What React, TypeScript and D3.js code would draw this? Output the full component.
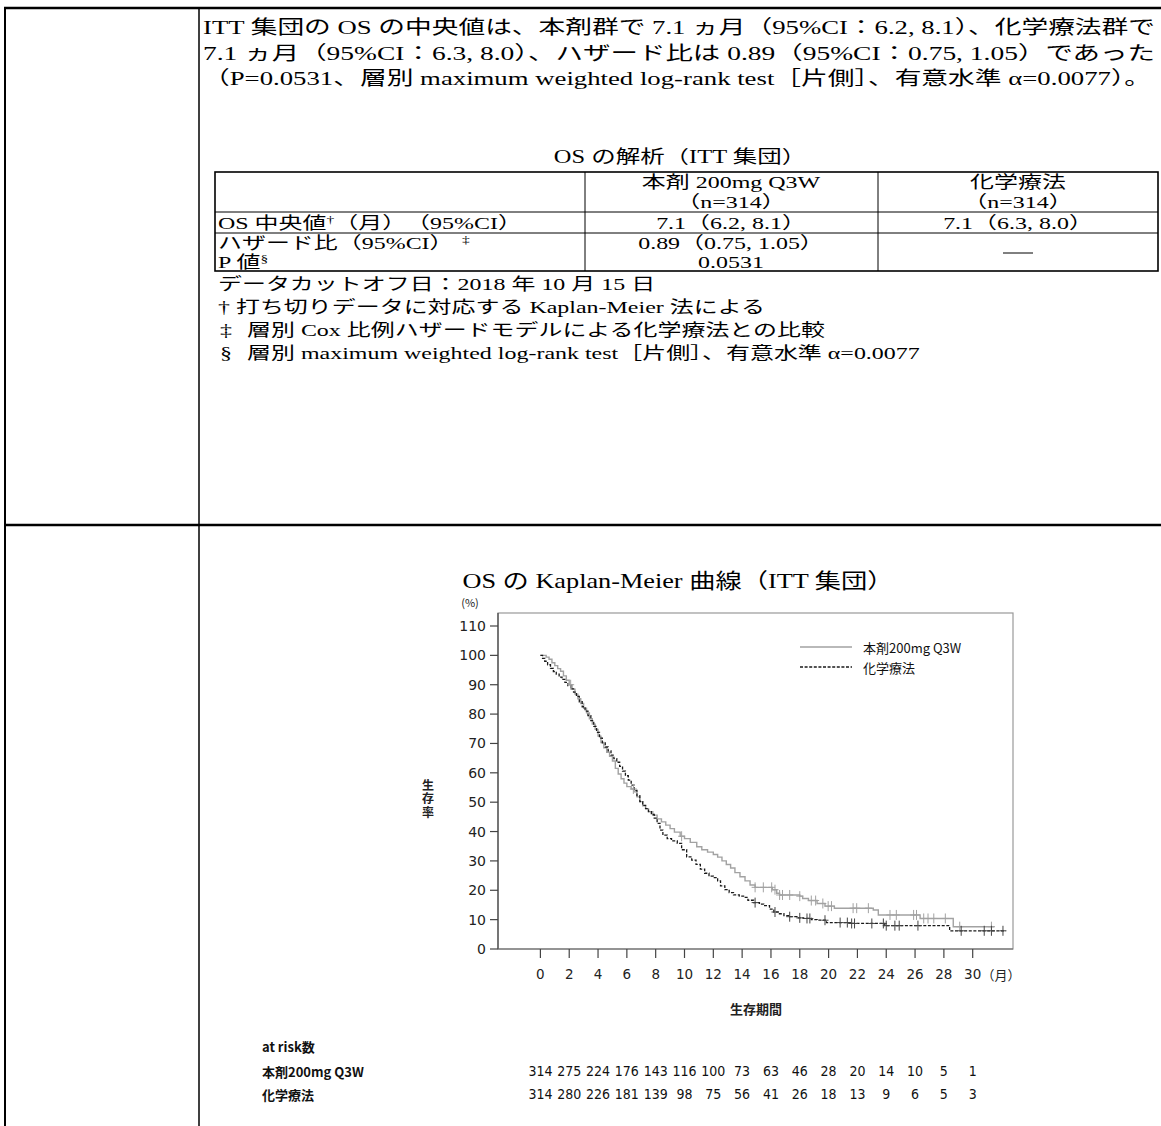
import React from "react";
import * as d3 from "d3";

// ---- Kaplan-Meier data (months, survival %) ----
const drugCurve: [number, number][] = [
  [0, 100], [0.4, 99.4], [0.6, 98.7], [0.8, 97.5], [1.0, 96.5], [1.2, 95.5], [1.4, 94.6],
  [1.6, 93.0], [1.8, 91.5], [2.0, 90.0], [2.2, 88.5], [2.4, 86.8], [2.6, 85.2], [2.8, 83.6],
  [3.0, 82.0], [3.2, 80.4], [3.4, 78.4], [3.6, 76.6], [3.8, 74.8], [4.0, 72.5], [4.2, 70.3],
  [4.4, 68.5], [4.6, 67.0], [4.8, 65.6], [5.0, 64.0], [5.2, 61.5], [5.4, 59.6], [5.6, 58.0],
  [5.8, 56.5], [6.0, 55.3], [6.3, 54.5], [6.5, 53.5], [6.7, 51.8], [6.9, 50.2], [7.1, 48.8],
  [7.3, 47.8], [7.5, 46.8], [7.8, 45.6], [8.1, 44.3], [8.4, 43.3], [8.7, 42.2], [9.0, 41.0],
  [9.3, 39.8], [9.7, 38.4], [10.0, 37.6], [10.4, 36.3], [10.85, 34.8], [11.2, 33.8],
  [11.6, 33.0], [12.0, 32.2], [12.3, 31.3], [12.6, 30.0], [12.9, 28.8], [13.2, 27.6],
  [13.5, 26.0], [13.85, 24.6], [14.2, 23.2], [14.55, 21.8], [14.9, 21.0], [16.1, 20.2],
  [16.4, 19.0], [16.6, 18.4], [18.0, 18.0], [18.2, 17.2], [18.6, 16.5], [19.2, 15.5],
  [19.75, 14.6], [20.4, 13.9], [23.1, 13.3], [23.45, 11.6], [26.35, 10.4], [28.65, 7.6],
  [31.5, 7.6],
];

const chemoCurve: [number, number][] = [
  [0, 100], [0.15, 99.0], [0.3, 98.0], [0.5, 96.8], [0.7, 95.6], [0.9, 94.5], [1.1, 93.6],
  [1.3, 92.6], [1.5, 91.8], [1.7, 90.8], [1.9, 89.7], [2.1, 88.6], [2.3, 87.5], [2.5, 86.0],
  [2.7, 84.2], [2.9, 82.5], [3.1, 81.0], [3.3, 79.5], [3.5, 77.8], [3.7, 75.8], [3.9, 73.8],
  [4.1, 71.8], [4.3, 70.2], [4.5, 68.8], [4.7, 67.5], [4.9, 66.0], [5.1, 64.8], [5.3, 63.6],
  [5.5, 62.2], [5.7, 60.6], [5.9, 59.0], [6.1, 57.5], [6.3, 55.8], [6.5, 54.0], [6.7, 52.2],
  [6.9, 50.2], [7.1, 48.9], [7.3, 47.8], [7.5, 46.8], [7.7, 45.8], [7.9, 44.6], [8.1, 42.8],
  [8.3, 40.5], [8.5, 38.8], [8.8, 37.6], [9.1, 36.8], [9.5, 36.0], [9.8, 33.8], [10.15, 31.4],
  [10.5, 30.3], [10.8, 28.8], [11.1, 27.2], [11.4, 25.8], [11.7, 24.8], [12.0, 24.3],
  [12.3, 23.2], [12.5, 21.5], [12.8, 20.2], [13.1, 19.2], [13.4, 18.4], [13.8, 18.0],
  [14.1, 17.6], [14.4, 16.6], [14.8, 15.8], [15.2, 15.3], [15.5, 14.8], [15.9, 13.6],
  [16.2, 12.6], [16.5, 12.0], [16.9, 11.4], [17.3, 11.0], [17.8, 10.6], [18.25, 10.4],
  [18.8, 10.0], [19.2, 9.8], [19.85, 9.0], [21.5, 8.7], [23.9, 7.95], [28.4, 6.2], [32.3, 6.2],
];

// censoring times (months)
const drugCensor = [2.1, 6.45, 9.8, 14.9, 15.47, 16.05, 16.28, 16.6, 16.8, 17.3, 18.0, 18.8, 19.1,
  19.6, 19.97, 20.2, 21.7, 21.95, 22.76, 24.26, 24.7, 25.9, 26.1, 26.6, 26.9, 27.3, 28.1, 29.1, 31.3];
const chemoCensor = [14.9, 16.28, 17.3, 18.0, 18.5, 18.7, 19.75, 20.8, 21.3, 21.6, 21.8, 23.0, 23.8,
  24.0, 24.6, 24.9, 26.2, 29.2, 30.8, 31.3, 32.1];

const xTicks = [0, 2, 4, 6, 8, 10, 12, 14, 16, 18, 20, 22, 24, 26, 28, 30];
const yTicks = [0, 10, 20, 30, 40, 50, 60, 70, 80, 90, 100, 110];
const atRiskDrug = [314, 275, 224, 176, 143, 116, 100, 73, 63, 46, 28, 20, 14, 10, 5, 1];
const atRiskChemo = [314, 280, 226, 181, 139, 98, 75, 56, 41, 26, 18, 13, 9, 6, 5, 3];

const drugLabel = "本剤200mg Q3W";
const chemoLabel = "化学療法";
const yTitle = "生存率";

const paragraph = [
  "ITT 集団の OS の中央値は、本剤群で 7.1 ヵ月（95%CI：6.2, 8.1）、化学療法群で",
  "7.1 ヵ月（95%CI：6.3, 8.0）、ハザード比は 0.89（95%CI：0.75, 1.05）であった",
  "（P=0.0531、層別 maximum weighted log-rank test［片側］、有意水準 α=0.0077）。",
];
const paragraphWidths = [952, 952, 948];

const SERIF = "'Liberation Serif', 'Times New Roman', 'Noto Sans CJK JP', serif";
const SANS = "'DejaVu Sans', 'Noto Sans CJK JP', sans-serif";
const CJK = "'Noto Sans CJK JP', sans-serif";
const NUM = "'DejaVu Sans Condensed', 'DejaVu Sans', sans-serif";

// document text is set wide; stretch it horizontally around its anchor
const SX = 1.41;

function WideText(props: {
  x: number;
  y: number;
  anchor?: "start" | "middle" | "end";
  sx?: number;
  size?: number;
  children: React.ReactNode;
}) {
  const { x, y, anchor = "start", sx = SX, size, children } = props;
  return (
    <text transform={`translate(${x},${y}) scale(${sx},1)`} textAnchor={anchor} fontSize={size}>
      {children}
    </text>
  );
}

function survivalAt(curve: [number, number][], t: number) {
  let s = curve[0][1];
  for (const [tt, ss] of curve) if (tt <= t) s = ss;
  return s;
}

export default function App() {
  const x = d3.scaleLinear().domain([0, 30]).range([540.4, 972.7]);
  const y = d3.scaleLinear().domain([0, 110]).range([949, 626]);
  const line = d3
    .line<[number, number]>()
    .x((d) => x(d[0]))
    .y((d) => y(d[1]))
    .curve(d3.curveStepAfter);

  const frame = { left: 498, right: 1013, top: 613, bottom: 949 };
  const gray = "#a2a2a2";
  const dark = "#1a1a1a";

  return (
    <div style={{ position: "absolute", left: 0, top: 0 }}>
      <svg width={1161} height={1126} style={{ display: "block", background: "#fff" }}>
        {/* document frame */}
        <line x1={4} x2={1161} y1={8} y2={8} stroke="#000" strokeWidth={2.5} />
        <line x1={5} x2={5} y1={7} y2={1126} stroke="#000" strokeWidth={2} />
        <line x1={199} x2={199} y1={7} y2={1126} stroke="#000" strokeWidth={1.5} />
        <line x1={4} x2={1161} y1={525} y2={525} stroke="#000" strokeWidth={2.5} />

        {/* paragraph */}
        <g fontFamily={SERIF} fontSize={19} fill="#000">
          {paragraph.map((p, i) => (
            <text key={i} x={203} y={34 + i * 25.5} textLength={paragraphWidths[i]} lengthAdjust="spacingAndGlyphs">
              {p}
            </text>
          ))}
        </g>

        {/* summary table */}
        <g fontFamily={SERIF} fontSize={17} fill="#000">
          <WideText x={680} y={163} anchor="middle" size={18} sx={1.36}>OS の解析（ITT 集団）</WideText>
          <rect x={215} y={172} width={943} height={99} fill="none" stroke="#000" strokeWidth={1.6} />
          <line x1={585} x2={585} y1={172} y2={271} stroke="#000" strokeWidth={1} />
          <line x1={878} x2={878} y1={172} y2={271} stroke="#000" strokeWidth={1} />
          <line x1={215} x2={1158} y1={212} y2={212} stroke="#000" strokeWidth={1} />
          <line x1={215} x2={1158} y1={233} y2={233} stroke="#000" strokeWidth={1} />

          <WideText x={731} y={188} anchor="middle">本剤 200mg Q3W</WideText>
          <WideText x={731} y={208} anchor="middle">（n=314）</WideText>
          <WideText x={1018} y={188} anchor="middle">化学療法</WideText>
          <WideText x={1018} y={208} anchor="middle">（n=314）</WideText>

          <WideText x={218} y={229}>
            OS 中央値<tspan fontSize={11} dy={-6}>†</tspan>
            <tspan dy={6}>（月）　（95%CI）</tspan>
          </WideText>
          <WideText x={731} y={229} anchor="middle">7.1（6.2, 8.1）</WideText>
          <WideText x={1018} y={229} anchor="middle">7.1（6.3, 8.0）</WideText>

          <WideText x={218} y={249}>
            ハザード比（95%CI）<tspan fontSize={11} dx={6} dy={-6}>‡</tspan>
          </WideText>
          <WideText x={218} y={268}>
            P 値<tspan fontSize={11} dy={-6}>§</tspan>
          </WideText>
          <WideText x={731} y={249} anchor="middle">0.89（0.75, 1.05）</WideText>
          <WideText x={731} y={268} anchor="middle">0.0531</WideText>
          <line x1={1003} x2={1033} y1={253} y2={253} stroke="#000" strokeWidth={1} />

          <WideText x={218} y={290}>データカットオフ日：2018 年 10 月 15 日</WideText>
          <WideText x={218} y={313}>† 打ち切りデータに対応する Kaplan-Meier 法による</WideText>
          <WideText x={220} y={336}>‡</WideText>
          <WideText x={247} y={336}>層別 Cox 比例ハザードモデルによる化学療法との比較</WideText>
          <WideText x={220} y={359}>§</WideText>
          <WideText x={247} y={359}>層別 maximum weighted log-rank test［片側］、有意水準 α=0.0077</WideText>
        </g>

        {/* chart title */}
        <g fontFamily={SERIF} fill="#000">
          <WideText x={678} y={588} anchor="middle" size={21} sx={1.25}>
            OS の Kaplan-Meier 曲線（ITT 集団）
          </WideText>
        </g>

        {/* plot frame */}
        <rect
          x={frame.left}
          y={frame.top}
          width={frame.right - frame.left}
          height={frame.bottom - frame.top}
          fill="none"
          stroke="#999"
          strokeWidth={1.2}
        />
        <line x1={frame.left} x2={frame.left} y1={frame.top} y2={frame.bottom} stroke="#444" strokeWidth={1.2} />
        <line x1={frame.left} x2={frame.right} y1={frame.bottom} y2={frame.bottom} stroke="#666" strokeWidth={1.2} />

        {/* y axis */}
        <g fontFamily={SANS} fontSize={14} fill="#222">
          {yTicks.map((t) => (
            <g key={t}>
              <line x1={frame.left - 8} x2={frame.left} y1={y(t)} y2={y(t)} stroke="#444" strokeWidth={1.2} />
              <text x={frame.left - 12} y={y(t)} textAnchor="end" dominantBaseline="central">{t}</text>
            </g>
          ))}
          <text x={470} y={607} textAnchor="middle" fontSize={11} fontFamily={CJK}>(%)</text>
          {/* vertical axis title set top-to-bottom */}
          <text
            x={428}
            y={779}
            style={{ writingMode: "vertical-rl" }}
            fontFamily={CJK}
            fontWeight={700}
            fontSize={12}
            letterSpacing={1.5}
          >
            {yTitle}
          </text>
        </g>

        {/* x axis */}
        <g fontFamily={SANS} fontSize={13.5} fill="#222">
          {xTicks.map((t) => (
            <g key={t}>
              <line x1={x(t)} x2={x(t)} y1={frame.bottom} y2={frame.bottom + 9} stroke="#444" strokeWidth={1.2} />
              <text x={x(t)} y={974} textAnchor="middle" dominantBaseline="central">{t}</text>
            </g>
          ))}
          <text x={1001} y={974} textAnchor="middle" dominantBaseline="central" fontFamily={CJK} fontSize={13}>（月）</text>
          <text x={756} y={1008} textAnchor="middle" dominantBaseline="central" fontFamily={CJK} fontWeight={700} fontSize={13}>生存期間</text>
        </g>

        {/* curves */}
        <path d={line(drugCurve) ?? ""} fill="none" stroke={gray} strokeWidth={1.4} />
        <path d={line(chemoCurve) ?? ""} fill="none" stroke={dark} strokeWidth={1.3} strokeDasharray="3 1.6" />

        {/* censor marks */}
        {drugCensor.map((t, i) => {
          const cx = x(t), cy = y(survivalAt(drugCurve, t));
          return (
            <g key={"d" + i} stroke={gray} strokeWidth={1}>
              <line x1={cx} x2={cx} y1={cy - 5} y2={cy + 5} />
              <line x1={cx - 3.5} x2={cx + 3.5} y1={cy} y2={cy} />
            </g>
          );
        })}
        {chemoCensor.map((t, i) => {
          const cx = x(t), cy = y(survivalAt(chemoCurve, t));
          return (
            <g key={"c" + i} stroke="#444" strokeWidth={1}>
              <line x1={cx} x2={cx} y1={cy - 5} y2={cy + 5} />
              <line x1={cx - 3.5} x2={cx + 3.5} y1={cy} y2={cy} />
            </g>
          );
        })}

        {/* legend */}
        <line x1={800} x2={852} y1={647} y2={647} stroke={gray} strokeWidth={1.3} />
        <line x1={800} x2={852} y1={667} y2={667} stroke={dark} strokeWidth={1.3} strokeDasharray="3 1.6" />
        <g fontFamily={CJK} fontSize={13} fill="#111">
          <text x={863} y={647} dominantBaseline="central">{drugLabel}</text>
          <text x={863} y={667} dominantBaseline="central">{chemoLabel}</text>
        </g>

        {/* number at risk */}
        <g fill="#111">
          <text x={262} y={1046} dominantBaseline="central" fontFamily={CJK} fontWeight={700} fontSize={13}>at risk数</text>
          <text x={262} y={1071} dominantBaseline="central" fontFamily={CJK} fontWeight={700} fontSize={13}>{drugLabel}</text>
          <text x={262} y={1094} dominantBaseline="central" fontFamily={CJK} fontWeight={700} fontSize={13}>{chemoLabel}</text>
          {atRiskDrug.map((n, i) => (
            <text key={"ad" + i} x={x(xTicks[i])} y={1071} textAnchor="middle" dominantBaseline="central" fontFamily={NUM} fontSize={14}>
              {n}
            </text>
          ))}
          {atRiskChemo.map((n, i) => (
            <text key={"ac" + i} x={x(xTicks[i])} y={1094} textAnchor="middle" dominantBaseline="central" fontFamily={NUM} fontSize={14}>
              {n}
            </text>
          ))}
        </g>
      </svg>
    </div>
  );
}
